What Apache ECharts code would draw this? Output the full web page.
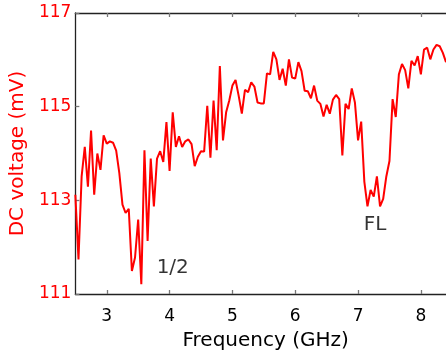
<!DOCTYPE html>
<html>
<head>
<meta charset="utf-8">
<script src="https://cdn.jsdelivr.net/npm/echarts@6/dist/echarts.min.js"></script>
<style>html,body{margin:0;padding:0;background:#fff;}#c{width:446px;height:356px;}</style>
</head>
<body>
<div id="c"></div>
<script>
const frequency = [
  2.50, 2.55, 2.60, 2.65, 2.70, 2.75, 2.80, 2.85, 2.90, 2.95,
  3.00, 3.05, 3.10, 3.15, 3.20, 3.25, 3.30, 3.35, 3.40, 3.45,
  3.50, 3.55, 3.60, 3.65, 3.70, 3.75, 3.80, 3.85, 3.90, 3.95,
  4.00, 4.05, 4.10, 4.15, 4.20, 4.25, 4.30, 4.35, 4.40, 4.45,
  4.50, 4.55, 4.60, 4.65, 4.70, 4.75, 4.80, 4.85, 4.90, 4.95,
  5.00, 5.05, 5.10, 5.15, 5.20, 5.25, 5.30, 5.35, 5.40, 5.45,
  5.50, 5.55, 5.60, 5.65, 5.70, 5.75, 5.80, 5.85, 5.90, 5.95,
  6.00, 6.05, 6.10, 6.15, 6.20, 6.25, 6.30, 6.35, 6.40, 6.45,
  6.50, 6.55, 6.60, 6.65, 6.70, 6.75, 6.80, 6.85, 6.90, 6.95,
  7.00, 7.05, 7.10, 7.15, 7.20, 7.25, 7.30, 7.35, 7.40, 7.45,
  7.50, 7.55, 7.60, 7.65, 7.70, 7.75, 7.80, 7.85, 7.90, 7.95,
  8.00, 8.05, 8.10, 8.15, 8.20, 8.25, 8.30, 8.35, 8.40
];
const dcVoltage = [
  113.12, 111.74, 113.51, 114.14, 113.29, 114.49, 113.12, 114.00, 113.65, 114.39,
  114.21, 114.26, 114.23, 114.06, 113.58, 112.91, 112.73, 112.82, 111.49, 111.78,
  112.59, 111.21, 114.07, 112.13, 113.89, 112.87, 113.89, 114.05, 113.82, 114.67,
  113.63, 114.88, 114.14, 114.37, 114.14, 114.26, 114.30, 114.20, 113.73, 113.93,
  114.05, 114.04, 115.02, 113.91, 115.13, 114.07, 115.87, 114.28, 114.88, 115.13,
  115.45, 115.57, 115.23, 114.85, 115.36, 115.31, 115.52, 115.43, 115.09, 115.07,
  115.07, 115.71, 115.69, 116.17, 116.01, 115.57, 115.81, 115.45, 116.01, 115.62,
  115.60, 115.95, 115.76, 115.34, 115.33, 115.18, 115.45, 115.13, 115.06, 114.79,
  115.04, 114.85, 115.15, 115.25, 115.16, 113.96, 115.06, 114.95, 115.39, 115.09,
  114.28, 114.68, 113.40, 112.87, 113.22, 113.08, 113.51, 112.87, 113.03, 113.51,
  113.84, 115.16, 114.78, 115.69, 115.91, 115.78, 115.39, 115.98, 115.88, 116.08,
  115.69, 116.22, 116.26, 116.01, 116.22, 116.32, 116.29, 116.15, 115.95
];
const xTickValues = [3, 4, 5, 6, 7, 8];
const yTickValues = [111, 113, 115, 117];
const annotationText = ['1/2', 'FL'];
const annotationX = [4.05, 7.27];
const annotationY = [111.55, 112.47];

const FONT = 'DejaVu Sans';
const chart = echarts.init(document.getElementById('c'), null, {renderer: 'canvas'});
const lineData = frequency.map((f, i) => [f, dcVoltage[i]]);
const annData = annotationText.map((t, i) => ({value: [annotationX[i], annotationY[i]], label: {formatter: t}}));

chart.setOption({
  animation: false,
  backgroundColor: '#ffffff',
  grid: {left: 74, top: 13, right: 0, bottom: 59, containLabel: false},
  xAxis: [{
    type: 'value', min: 2.5, max: 8.4,
    name: 'Frequency (GHz)', nameLocation: 'middle', nameGap: 37,
    nameTextStyle: {fontFamily: FONT, fontSize: 20, color: '#000', padding: [0, 0, 0, 10]},
    axisLine: {show: true, lineStyle: {color: '#222', width: 1.3}},
    axisTick: {show: true, inside: true, length: 4, customValues: xTickValues, lineStyle: {color: '#777', width: 1.3}},
    axisLabel: {customValues: xTickValues, fontFamily: FONT, fontSize: 17, color: '#000', margin: 14},
    splitLine: {show: false}
  }, {
    type: 'value', min: 2.5, max: 8.4, position: 'top',
    axisLine: {show: true, lineStyle: {color: '#222', width: 1.3}},
    axisTick: {show: true, inside: true, length: 4, customValues: xTickValues, lineStyle: {color: '#777', width: 1.3}},
    axisLabel: {show: false},
    splitLine: {show: false}
  }],
  yAxis: {
    type: 'value', min: 111, max: 117,
    name: 'DC voltage (mV)', nameLocation: 'middle', nameGap: 38,
    nameTextStyle: {fontFamily: FONT, fontSize: 20, color: '#ff0000', padding: [0, 0, 8, 0]},
    axisLine: {show: true, lineStyle: {color: '#222', width: 1.3}},
    axisTick: {show: true, inside: true, length: 4, customValues: yTickValues, lineStyle: {color: '#777', width: 1.3}},
    axisLabel: {customValues: yTickValues, fontFamily: FONT, fontSize: 17, color: '#ff0000', margin: 4},
    splitLine: {show: false}
  },
  series: [{
    type: 'line', data: lineData, showSymbol: false, symbol: 'none',
    lineStyle: {color: '#ff0000', width: 2},
    z: 3
  }, {
    type: 'scatter', data: annData, symbolSize: 0,
    label: {show: true, position: 'inside', fontFamily: FONT, fontSize: 20, color: '#000'},
    silent: true
  }]
});
</script>
</body>
</html>
